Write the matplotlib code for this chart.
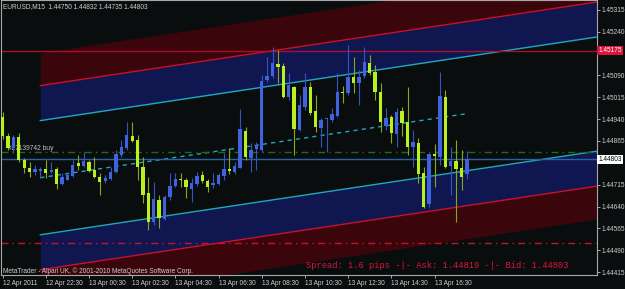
import pandas as pd
import matplotlib
matplotlib.use("Agg")
import matplotlib.pyplot as plt

# chart data (EURUSD M15)
symbol = "EURUSD,M15"
first_bar = "2011-04-12 20:30"

opens = [1.44947, 1.44882, 1.44841, 1.44879, 1.44800, 1.44772, 1.44759, 1.44762, 1.44769, 1.44759,
         1.44769, 1.44717, 1.44731, 1.44745, 1.44789, 1.44779, 1.44793, 1.44765, 1.44741, 1.44728,
         1.44735, 1.44759, 1.44817, 1.44841, 1.44882, 1.44868, 1.44776, 1.44686, 1.44587, 1.44662,
         1.44597, 1.44673, 1.44710, 1.44735, 1.44731, 1.44700, 1.44717, 1.44748, 1.44728, 1.44714,
         1.44717, 1.44745, 1.44769, 1.44759, 1.44772, 1.44899, 1.44807, 1.44838, 1.44834, 1.45075,
         1.45088, 1.45130, 1.45123, 1.45016, 1.45050, 1.44903, 1.44982, 1.45050, 1.44968, 1.44910,
         1.44941, 1.44937, 1.44951, 1.45033, 1.45030, 1.45085, 1.45064, 1.45088, 1.45133, 1.45102,
         1.45033, 1.44917, 1.44947, 1.44889, 1.44968, 1.44930, 1.44844, 1.44858, 1.44755, 1.44649,
         1.44820, 1.44810, 1.45016, 1.44779, 1.44796, 1.44772, 1.44750]
highs = [1.44965, 1.44892, 1.44886, 1.44892, 1.44807, 1.44793, 1.44783, 1.44776, 1.44800, 1.44793,
         1.44776, 1.44755, 1.44759, 1.44800, 1.44817, 1.44827, 1.44800, 1.44810, 1.44755, 1.44748,
         1.44776, 1.44834, 1.44868, 1.44930, 1.44930, 1.44886, 1.44810, 1.44741, 1.44724, 1.44680,
         1.44680, 1.44755, 1.44755, 1.44755, 1.44738, 1.44738, 1.44759, 1.44762, 1.44735, 1.44755,
         1.44755, 1.44824, 1.44841, 1.44793, 1.44975, 1.44913, 1.44858, 1.44862, 1.45092, 1.45154,
         1.45188, 1.45178, 1.45133, 1.45099, 1.45054, 1.45023, 1.45099, 1.45068, 1.45023, 1.44944,
         1.44944, 1.44978, 1.45099, 1.45054, 1.45195, 1.45154, 1.45109, 1.45188, 1.45160, 1.45126,
         1.45064, 1.44978, 1.44954, 1.44978, 1.44982, 1.45050, 1.44903, 1.44875, 1.44776, 1.44824,
         1.44855, 1.45102, 1.45040, 1.44844, 1.44868, 1.44834, 1.44832]
lows = [1.44872, 1.44834, 1.44824, 1.44793, 1.44755, 1.44741, 1.44748, 1.44738, 1.44738, 1.44755,
        1.44700, 1.44714, 1.44731, 1.44741, 1.44765, 1.44776, 1.44759, 1.44738, 1.44680, 1.44721,
        1.44731, 1.44755, 1.44810, 1.44834, 1.44862, 1.44731, 1.44652, 1.44559, 1.44576, 1.44566,
        1.44594, 1.44662, 1.44707, 1.44707, 1.44669, 1.44655, 1.44710, 1.44721, 1.44690, 1.44704,
        1.44714, 1.44731, 1.44752, 1.44752, 1.44772, 1.44800, 1.44759, 1.44765, 1.44827, 1.45068,
        1.45081, 1.45064, 1.45013, 1.45006, 1.44817, 1.44899, 1.44972, 1.44954, 1.44896, 1.44844,
        1.44827, 1.44930, 1.44947, 1.44996, 1.45023, 1.45030, 1.44989, 1.45081, 1.45092, 1.45006,
        1.44896, 1.44903, 1.44858, 1.44844, 1.44882, 1.44817, 1.44776, 1.44721, 1.44635, 1.44638,
        1.44707, 1.44783, 1.44772, 1.44680, 1.44587, 1.44697, 1.44735]
closes = [1.44882, 1.44841, 1.44879, 1.44800, 1.44772, 1.44759, 1.44769, 1.44769, 1.44755, 1.44765,
          1.44717, 1.44741, 1.44748, 1.44783, 1.44779, 1.44796, 1.44762, 1.44741, 1.44724, 1.44738,
          1.44759, 1.44820, 1.44844, 1.44886, 1.44865, 1.44776, 1.44680, 1.44587, 1.44666, 1.44601,
          1.44673, 1.44710, 1.44735, 1.44731, 1.44707, 1.44721, 1.44745, 1.44728, 1.44707, 1.44721,
          1.44748, 1.44769, 1.44762, 1.44779, 1.44906, 1.44810, 1.44834, 1.44851, 1.45071, 1.45088,
          1.45133, 1.45119, 1.45016, 1.45057, 1.44906, 1.44989, 1.45050, 1.44961, 1.44913, 1.44937,
          1.44944, 1.44958, 1.45033, 1.45030, 1.45085, 1.45064, 1.45085, 1.45136, 1.45099, 1.45033,
          1.44930, 1.44944, 1.44892, 1.44965, 1.44927, 1.44844, 1.44862, 1.44752, 1.44638, 1.44820,
          1.44814, 1.45020, 1.44776, 1.44796, 1.44769, 1.44741, 1.44803]

price_ticks = [1.45315, 1.45240, 1.45165, 1.45090, 1.45015, 1.44940, 1.44865,
               1.44790, 1.44715, 1.44640, 1.44565, 1.44490, 1.44415]

# regression channel object
chan_start = "2011-04-12 22:15"
chan_end = "2011-04-13 18:00"
chan_price_start = 1.44739
chan_price_end = 1.44959
chan_devs = [0.00196, 0.00316, 0.00429]

# horizontal objects
alert_level = 1.45175
order_price = 1.44828
order_label = "#27139742 buy"
stop_level = 1.44515
bid = 1.44803
ask = 1.44819
spread_pips = 1.6

BG = "#0a0d0d"
FG = "#d0d0d0"
BULL = "#3f63de"
BULL_WICK = "#3454c4"
BEAR = "#b8f020"
BEAR_WICK = "#88a81c"
CYAN = "#1fa9bd"
RED = "#c8122c"
FONT = "Liberation Sans"


def bar_index(ts, t0):
    return (pd.Timestamp(ts) - t0) / pd.Timedelta("15min")


times = pd.date_range(first_bar, periods=len(closes), freq="15min")
t0 = times[0]
bars = list(range(len(closes)))

fig = plt.figure(figsize=(6.25, 2.89), dpi=100, facecolor=BG)
ax = fig.add_axes([1.5 / 625, 14 / 289, 595 / 625, 275 / 289], facecolor=BG)
x_left, x_right = -0.19, 110.0
ax.set_xlim(x_left, x_right)
ax.set_ylim(1.44405, 1.45349)

# channel
b0 = bar_index(chan_start, t0)
b1 = bar_index(chan_end, t0)
slope = (chan_price_end - chan_price_start) / (b1 - b0)
xs = [b0, x_right]
mid = [chan_price_start, chan_price_start + slope * (x_right - b0)]


def shifted(d):
    return [m + d for m in mid]


d0, d1, d2 = chan_devs
ax.fill_between(xs, shifted(d0), shifted(d1), color="#101750", lw=0, zorder=1)
ax.fill_between(xs, shifted(-d1), shifted(-d0), color="#101750", lw=0, zorder=1)
ax.fill_between(xs, shifted(d1), shifted(d2), color="#3a060c", lw=0, zorder=1)
ax.fill_between(xs, shifted(-d2), shifted(-d1), color="#3a060c", lw=0, zorder=1)
ax.plot(xs, shifted(d0), color=CYAN, lw=1, zorder=2)
ax.plot(xs, shifted(-d0), color=CYAN, lw=1, zorder=2)
ax.plot(xs, shifted(d1), color=RED, lw=1, zorder=2)
ax.plot(xs, shifted(-d1), color=RED, lw=1, zorder=2)
ax.plot([b0, b1], [chan_price_start, chan_price_end], color=CYAN, lw=1,
        dashes=(3, 3), zorder=2)

# horizontal lines
ax.axhline(alert_level, color="#a8102a", lw=1, zorder=2)
ax.axhline(order_price, color="#1e6a1e", lw=1, dashes=(5, 3, 1, 3), zorder=2)
ax.axhline(stop_level, color=RED, lw=1, dashes=(5, 3, 1, 3), zorder=2)
ax.axhline(bid, color="#2a62a8", lw=1, zorder=2)
ax.text(1.0, order_price, order_label, color="#c0c0c0", fontsize=4.8,
        family=FONT, va="bottom", ha="left", zorder=3)

# candles
for i, o, h, l, c in zip(bars, opens, highs, lows, closes):
    up = c >= o
    ax.vlines(i, l, h, color=BULL_WICK if up else BEAR_WICK, lw=0.8, zorder=4)
    body = max(abs(c - o), 0.00003)
    ax.bar(i, body, width=0.6, bottom=min(o, c), color=BULL if up else BEAR,
           lw=0, zorder=5)

# axes styling
for side in ["left", "right", "bottom", "top"]:
    ax.spines[side].set_color("#a8a8a8")
    ax.spines[side].set_linewidth(0.8)

# scale labels hidden under the price boxes are left blank
covered = [1.45165, 1.44790]
ax.yaxis.tick_right()
ax.set_yticks(price_ticks)
ax.set_yticklabels(["" if p in covered else f"{p:.5f}" for p in price_ticks])
ax.tick_params(axis="y", colors="#a8a8a8", labelcolor=FG, length=2.2, width=0.7,
               pad=1.2, labelsize=4.7)

xt = [0]
xl = [times[0].strftime("%d %b %Y")]
for i, t in enumerate(times):
    if i > 0 and t.minute == 30 and t.hour % 2 == 0:
        xt.append(i)
        xl.append(t.strftime("%d %b %H:%M"))
ax.set_xticks(xt)
ax.set_xticklabels(xl, ha="left")
ax.tick_params(axis="x", colors="#a8a8a8", labelcolor=FG, length=2.2, width=0.7,
               pad=1.5, labelsize=4.7)
for lab in ax.get_xticklabels() + ax.get_yticklabels():
    lab.set_family(FONT)

# price labels on the scale
ax.text(1.003, alert_level, f"{alert_level:.5f}", transform=ax.get_yaxis_transform(),
        color="white", fontsize=4.7, family=FONT, va="center", ha="left",
        bbox=dict(boxstyle="square,pad=0.15", fc="#dc143c", ec="none"), zorder=10,
        clip_on=False)
ax.text(1.003, bid, f"{bid:.5f}", transform=ax.get_yaxis_transform(),
        color="black", fontsize=4.7, family=FONT, va="center", ha="left",
        bbox=dict(boxstyle="square,pad=0.15", fc="white", ec="none"), zorder=10,
        clip_on=False)

# texts
header = f"{symbol}  {opens[-1]:.5f} {highs[-1]:.5f} {lows[-1]:.5f} {closes[-1]:.5f}"
fig.text(3 / 625, 1 - 7 / 289, header, color=FG, fontsize=4.7, family=FONT,
         va="center", ha="left")
fig.text(3 / 625, 1 - 271.5 / 289,
         "MetaTrader - Alpari UK, \u00a9 2001-2010 MetaQuotes Software Corp.",
         color=FG, fontsize=4.7, family=FONT, va="center", ha="left")
fig.text(306 / 625, 1 - 265.5 / 289,
         f"Spread: {spread_pips} pips -|- Ask: {ask:.5f} -|- Bid: {bid:.5f}",
         color="#dc143c", fontsize=6.3, family="Liberation Mono", va="center", ha="left")

fig.savefig("out.png", dpi=100, facecolor=BG)
